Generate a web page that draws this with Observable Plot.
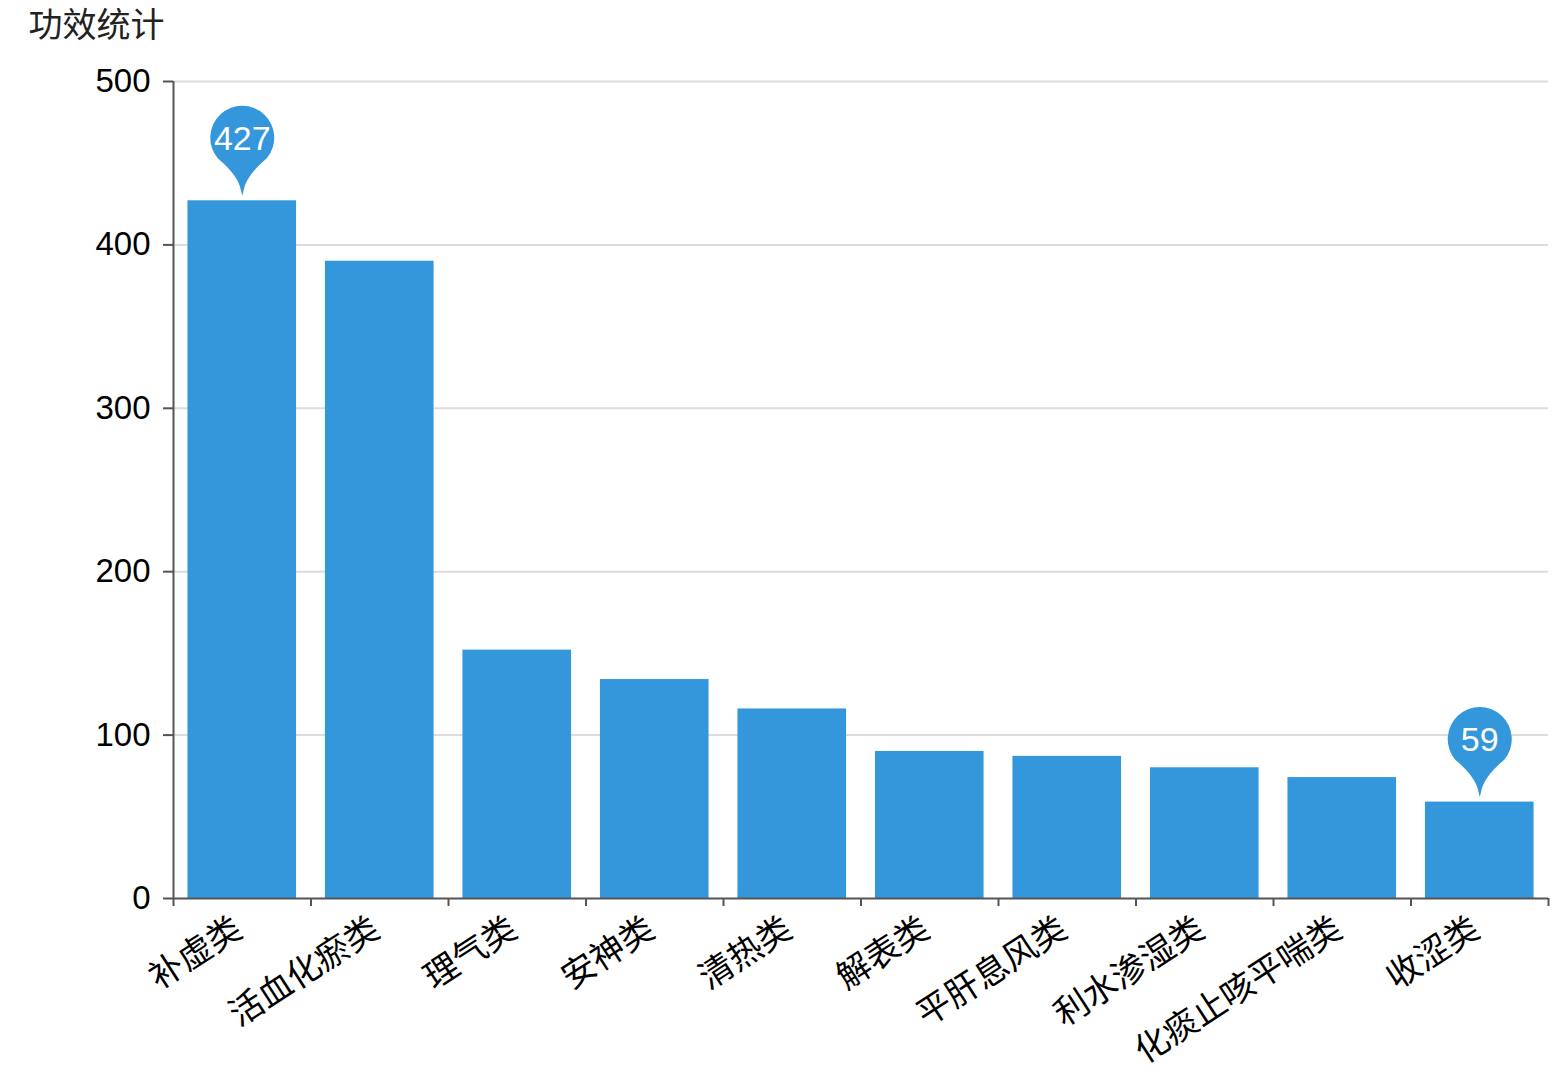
<!DOCTYPE html>
<html><head><meta charset="utf-8">
<script src="https://cdn.jsdelivr.net/npm/d3@7"></script>
<script src="https://cdn.jsdelivr.net/npm/@observablehq/plot@0.6"></script>
<style>body{margin:0;background:#fff} svg{display:block}</style>
</head><body><div id="chart"></div>
<script>
const title = "功效统计";
const categories = ["补虚类","活血化瘀类","理气类","安神类","清热类","解表类","平肝息风类","利水渗湿类","化痰止咳平喘类","收涩类"];
const values = [427,390,152,134,116,90,87,80,74,59];
const yTicks = [0,100,200,300,400,500];

const W = 1567, H = 1075, mL = 173, mR = 19, mT = 81, mB = 177;
const step = (W - mL - mR) / categories.length;
const data = categories.map((c, i) => ({category: c, value: values[i]}));
const pins = [data[d3.maxIndex(values)], data[d3.minIndex(values)]];
const blue = "#3497db";
const cjk = "'Noto Sans CJK SC', sans-serif";
const latin = "'Liberation Sans', Arial, sans-serif";

const pinSymbol = {
  draw(ctx) {
    const R = 32, cy = -58, phi = 50 * Math.PI / 180;
    const px = R * Math.sin(phi), py = cy + R * Math.cos(phi);
    ctx.moveTo(0, 0);
    ctx.lineTo(-1.5, -6);
    ctx.quadraticCurveTo(-4, -20, -px, py);
    ctx.arc(0, cy, R, Math.PI / 2 + phi, 2 * Math.PI + Math.PI / 2 - phi, false);
    ctx.quadraticCurveTo(4, -20, 1.5, -6);
    ctx.closePath();
  }
};

const last = categories[categories.length - 1];

const chart = Plot.plot({
  width: W, height: H,
  marginLeft: mL, marginRight: mR, marginTop: mT, marginBottom: mB,
  style: {background: "#fff", color: "#555", overflow: "visible"},
  x: {domain: categories, paddingInner: 0.21, paddingOuter: 0.105, round: false},
  y: {domain: [0, 500]},
  marks: [
    Plot.gridY(yTicks.filter(t => t > 0), {stroke: "#dcdcdc", strokeOpacity: 1, strokeWidth: 2}),
    Plot.barY(data, {x: "category", y: "value", fill: blue}),
    Plot.ruleY([0], {stroke: "#555", strokeWidth: 2}),
    Plot.ruleX([categories[0]], {x: d => d, y1: 0, y2: yTicks[yTicks.length - 1], dx: -step / 2, stroke: "#555", strokeWidth: 2}),
    Plot.ruleX(categories, {x: d => d, y1: 0, y2: 0, insetTop: 0, insetBottom: -8, dx: -step / 2, stroke: "#555", strokeWidth: 2}),
    Plot.ruleX([last], {x: d => d, y1: 0, y2: 0, insetTop: 0, insetBottom: -8, dx: step / 2, stroke: "#555", strokeWidth: 2}),
    Plot.axisY({ticks: yTicks, tickSize: 10, tickPadding: 13, fontSize: 33, fontFamily: latin, fill: "#000", stroke: "#555", strokeWidth: 2, label: null}),
    Plot.axisX({tickSize: 0, tickPadding: 27, tickRotate: -33, fontSize: 34, fontFamily: cjk, fill: "#000", label: null, dx: -4}),
    Plot.dot(pins, {x: "category", y: "value", symbol: pinSymbol, r: 3, fill: blue, stroke: "none", dy: -5}),
    Plot.text(pins, {x: "category", y: "value", text: d => String(d.value), fill: "#fff", fontSize: 34, fontFamily: latin, dy: -62, lineAnchor: "middle", textAnchor: "middle"}),
    Plot.text([title], {frameAnchor: "top-left", dx: 28 - mL, dy: 26 - mT, textAnchor: "start", lineAnchor: "middle", fontSize: 34, fontFamily: cjk, fill: "#222"})
  ]
});
document.getElementById("chart").append(chart);
</script>
</body></html>
